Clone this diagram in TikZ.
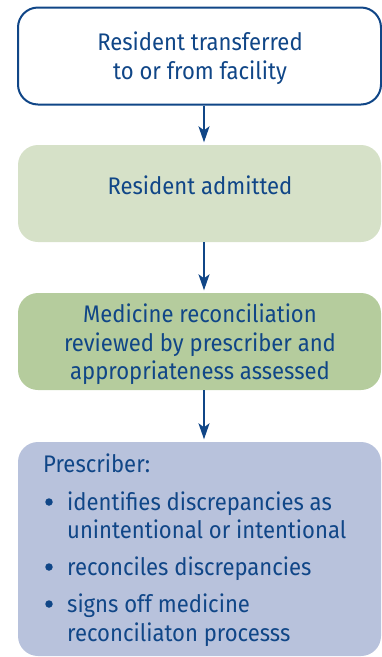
\documentclass[tikz,border=0pt]{standalone}
\usepackage{fontspec}
\setmainfont{Fira Sans}[FakeStretch=0.92]
\usetikzlibrary{arrows.meta}
\definecolor{navy}{RGB}{16,70,135}
\definecolor{paleg}{RGB}{214,225,200}
\definecolor{midg}{RGB}{181,204,157}
\definecolor{lav}{RGB}{184,194,220}
\tikzset{
  box/.style={rectangle, rounded corners=20pt, minimum width=363pt, inner sep=0pt},
  txt/.style={text=navy, font=\fontsize{24}{29}\selectfont, inner sep=0pt, anchor=base},
  ltxt/.style={txt, anchor=base west},
  dot/.style={circle, fill=navy, minimum size=7.5pt, inner sep=0pt},
  arr/.style={draw=navy, line width=2pt, -{Stealth[length=16pt,width=11pt,inset=4pt]}, shorten >=2.5pt}
}
\begin{document}
\begin{tikzpicture}[x=1pt,y=-1pt]
\useasboundingbox (0,0) rectangle (382,657);
\node[box, draw=navy, line width=2pt, fill=white, minimum height=97pt] (b1) at (199.5,56) {};
\node[box, fill=paleg, minimum height=97pt] (b2) at (199.5,193.5) {};
\node[box, fill=midg, minimum height=97pt] (b3) at (199.5,341.5) {};
\node[box, fill=lav, minimum height=214pt] (b4) at (199.5,549) {};
\draw[arr] ([xshift=4.5pt]b1.south) -- ([xshift=4.5pt]b2.north);
\draw[arr] ([xshift=4.5pt]b2.south) -- ([xshift=4.5pt]b3.north);
\draw[arr] ([xshift=4.5pt]b3.south) -- ([xshift=4.5pt]b4.north);
\node[txt] (t1a) at (200,50) {Resident transferred};
\node[txt] (t1b) at (200,79) {to or from facility};
\node[txt] (t2) at (200,194) {Resident admitted};
\node[txt] (t3a) at (200,322) {Medicine reconciliation};
\node[txt] (t3b) at (200,351) {reviewed by prescriber and};
\node[txt] (t3c) at (200,379) {appropriateness assessed};
\node[ltxt] (p0) at (43,472) {Prescriber:};
\node[dot] (d1) at (49,502) {};
\node[ltxt] (p1a) at (67,510) {identifies discrepancies as};
\node[ltxt] (p1b) at (67,538) {unintentional or intentional};
\node[dot] (d2) at (49,567) {};
\node[ltxt] (p2) at (67,575) {reconciles discrepancies};
\node[dot] (d3) at (49,604) {};
\node[ltxt] (p3a) at (67,612) {signs off medicine};
\node[ltxt] (p3b) at (67,641) {reconciliaton processs};
\end{tikzpicture}
\end{document}
